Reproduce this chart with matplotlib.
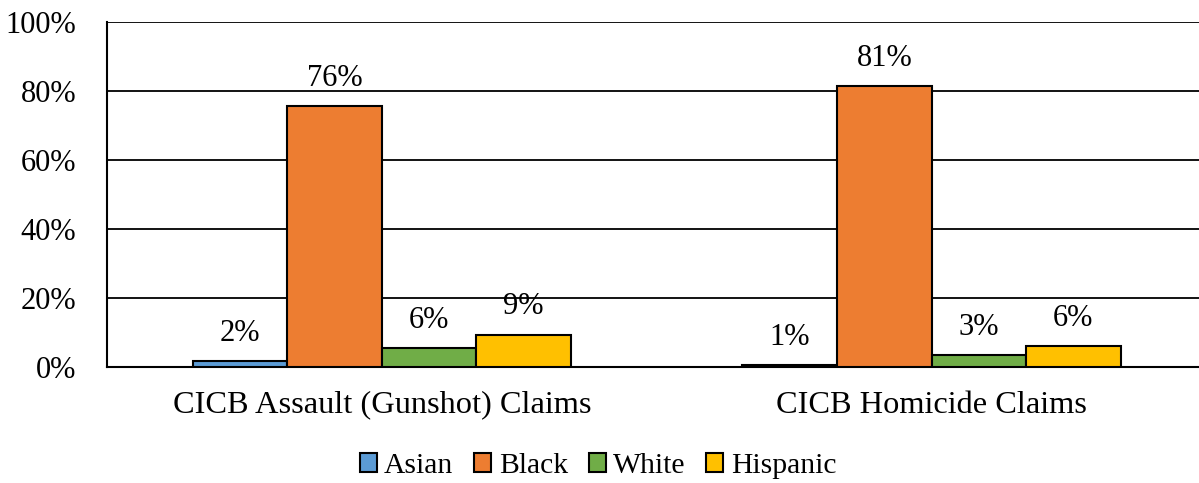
import matplotlib
matplotlib.use("Agg")
import matplotlib.pyplot as plt
import numpy as np

categories = ["CICB Assault (Gunshot) Claims", "CICB Homicide Claims"]
series = ["Asian", "Black", "White", "Hispanic"]
asian = [1.7, 0.6]
black = [75.6, 81.4]
white = [5.5, 3.4]
hispanic = [9.4, 6.1]
colors = ["#5B9BD5", "#ED7D31", "#70AD47", "#FFC000"]
yticks = [0, 20, 40, 60, 80, 100]

plt.rcParams['font.family'] = ['Liberation Serif', 'DejaVu Serif']
plt.rcParams['font.size'] = 22

fig = plt.figure(figsize=(11.99, 4.83), dpi=100)
W, H = 1199, 483
ax = fig.add_axes([107 / W, (H - 367) / H, 1092 / W, 345 / H])

x = np.arange(len(categories))
bw = 0.172
data = [asian, black, white, hispanic]
for i, (name, vals, c) in enumerate(zip(series, data, colors)):
    pos = x + (i - 1.5) * bw
    ax.bar(pos, vals, bw, color=c, edgecolor="black", linewidth=1.5, label=name, zorder=3)
    for p, v in zip(pos, vals):
        ax.annotate(f"{round(v):.0f}%", (p, v), xytext=(0, 9.5), textcoords="offset points",
                    ha="center", va="bottom", fontsize=22)

ax.set_ylim(0, 100)
ax.set_xlim(-0.5, -0.5 + 1092 / 549.7)
ax.set_yticks(yticks)
ax.set_yticklabels([f"{t}%" for t in yticks])
ax.set_xticks(x)
ax.set_xticklabels(categories, fontsize=23.3)
ax.tick_params(axis="y", length=0, pad=22)
ax.tick_params(axis="x", length=0, pad=17)
ax.yaxis.grid(True, color="black", linewidth=1.3, zorder=0)
for s in ["top", "right"]:
    ax.spines[s].set_visible(False)
ax.spines["left"].set_linewidth(1.5)
ax.spines["bottom"].set_linewidth(1.5)
ax.set_axisbelow(True)

fig.legend(loc="center", bbox_to_anchor=(598 / W, (H - 466) / H), ncol=4, frameon=False,
           handlelength=0.58, handleheight=0.58, handletextpad=0.25, columnspacing=0.7,
           fontsize=21.3, borderaxespad=0)

fig.savefig("out.png", dpi=100)
